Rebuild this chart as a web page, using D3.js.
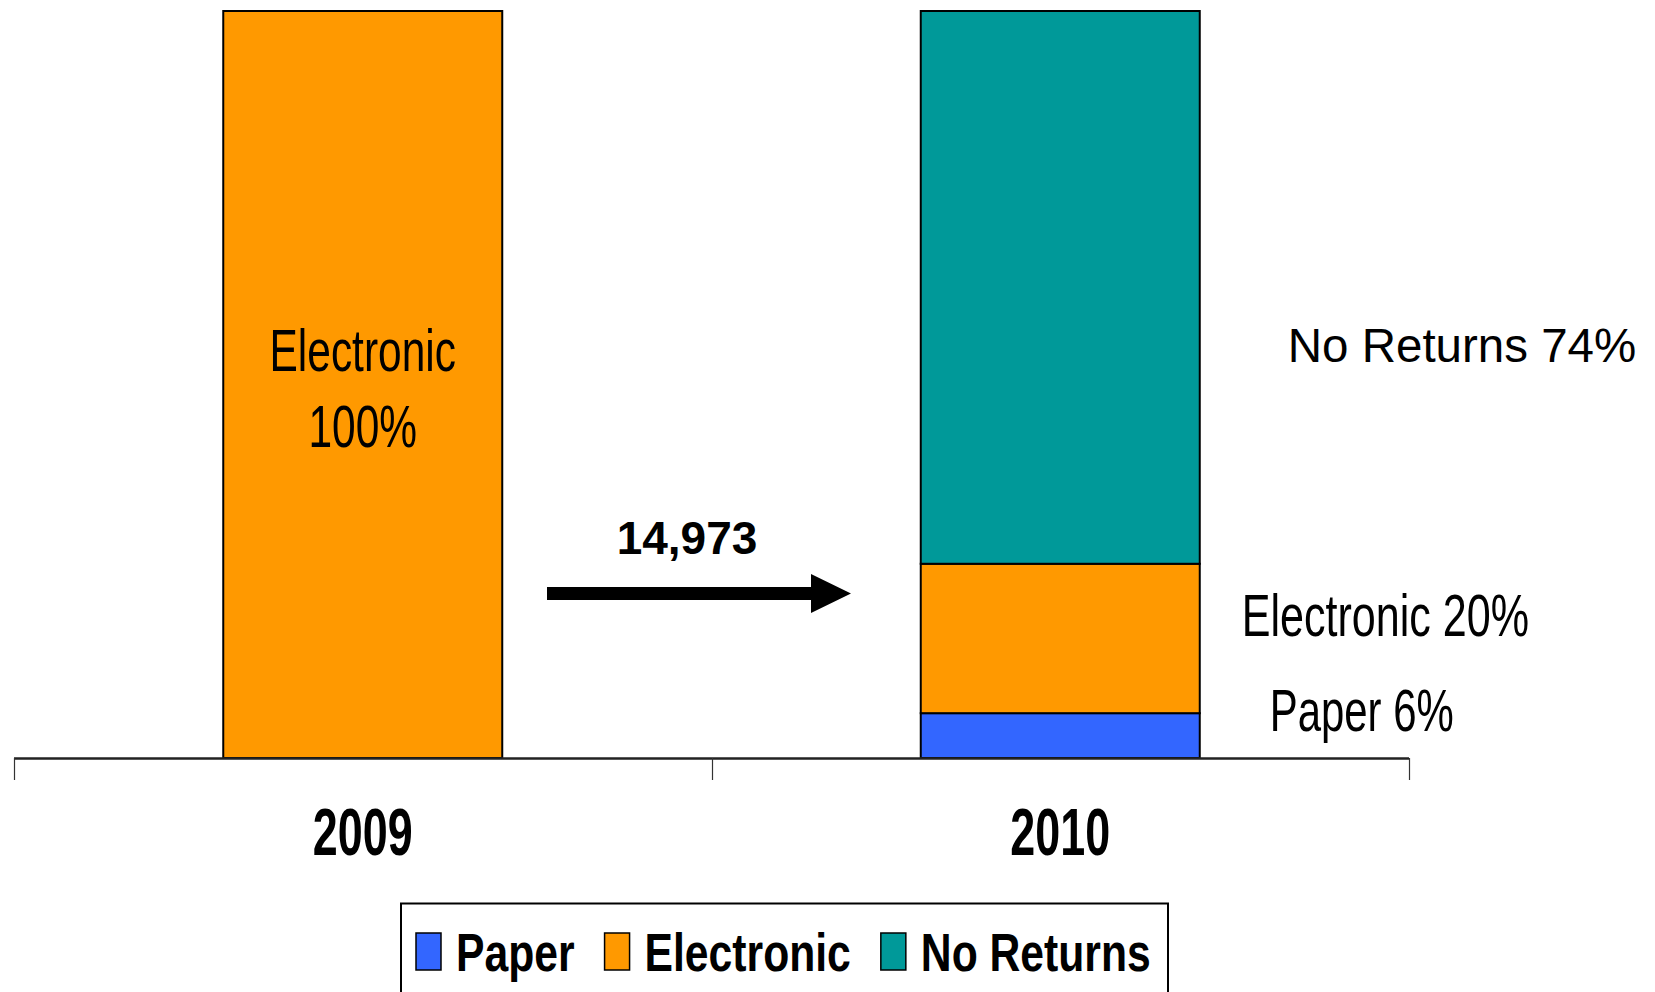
<!DOCTYPE html>
<html>
<head>
<meta charset="utf-8">
<script src="https://cdn.jsdelivr.net/npm/d3@7"></script>
<style>
  body { margin: 0; background: #fff; }
  text { font-family: "Liberation Sans", Arial, sans-serif; fill: #000; }
</style>
</head>
<body>
<div id="chart"></div>
<script>
// data
var years = ["2009", "2010"];
var categories = ["Paper", "Electronic", "No Returns"];
var paper = [0, 6];
var electronic = [100, 20];
var noReturns = [0, 74];
var transferCount = "14,973";

var colors = { "Paper": "#3366ff", "Electronic": "#ff9900", "No Returns": "#009999" };

var width = 1655, height = 992;

var rows = years.map(function (y, i) {
    return { year: y, "Paper": paper[i], "Electronic": electronic[i], "No Returns": noReturns[i] };
});

var svg = d3.select("#chart")
    .append("svg")
    .attr("width", width)
    .attr("height", height);

var x = d3.scaleBand()
    .domain(years)
    .range([14, 1409])
    .paddingInner(0.6)
    .paddingOuter(0.3);

var y = d3.scaleLinear()
    .domain([0, 100])
    .range([758, 11]);

// squeeze text horizontally (narrow face in the original)
function narrow(sel, k) {
    sel.each(function () {
        var len = this.getComputedTextLength();
        d3.select(this).attr("textLength", len * k).attr("lengthAdjust", "spacingAndGlyphs");
    });
}

var series = d3.stack().keys(categories)(rows);

svg.append("g")
    .selectAll("g")
    .data(series)
    .join("g")
    .attr("fill", function (s) { return colors[s.key]; })
    .selectAll("rect")
    .data(function (s) { return s.filter(function (d) { return d[1] > d[0]; }); })
    .join("rect")
    .attr("x", function (d) { return x(d.data.year); })
    .attr("y", function (d) { return y(d[1]); })
    .attr("width", x.bandwidth())
    .attr("height", function (d) { return y(d[0]) - y(d[1]); })
    .attr("stroke", "#000")
    .attr("stroke-width", 2);

// category axis, ticks between categories
var axis = svg.append("g");
axis.append("line")
    .attr("x1", x.range()[0]).attr("x2", x.range()[1])
    .attr("y1", y(0) + 0.5).attr("y2", y(0) + 0.5)
    .attr("stroke", "#222").attr("stroke-width", 2.5);
d3.range(years.length + 1).forEach(function (i) {
    var tx = Math.round(x.range()[0] + i * x.step()) + 0.5;
    axis.append("line")
        .attr("x1", tx).attr("x2", tx)
        .attr("y1", y(0)).attr("y2", y(0) + 22)
        .attr("stroke", "#333").attr("stroke-width", 1.2);
});
axis.selectAll("text.cat")
    .data(years)
    .join("text")
    .attr("class", "cat")
    .attr("x", function (d) { return x(d) + x.bandwidth() / 2; })
    .attr("y", 855)
    .attr("text-anchor", "middle")
    .attr("font-size", 66)
    .attr("font-weight", "bold")
    .text(function (d) { return d; })
    .call(narrow, 0.68);

// label inside the 2009 bar
var cx09 = x("2009") + x.bandwidth() / 2;
svg.append("text")
    .attr("x", cx09).attr("y", y(50) - 14)
    .attr("text-anchor", "middle").attr("font-size", 59)
    .text("Electronic")
    .call(narrow, 0.72);
svg.append("text")
    .attr("x", cx09).attr("y", y(50) + 62)
    .attr("text-anchor", "middle").attr("font-size", 59)
    .text(electronic[0] + "%")
    .call(narrow, 0.72);

// labels to the right of the 2010 bar
var right10 = x("2010") + x.bandwidth();
svg.append("text")
    .attr("x", right10 + 88).attr("y", 362)
    .attr("font-size", 47.5)
    .text("No Returns " + noReturns[1] + "%");
svg.append("text")
    .attr("x", right10 + 42).attr("y", 636)
    .attr("font-size", 59)
    .text("Electronic " + electronic[1] + "%")
    .call(narrow, 0.73);
svg.append("text")
    .attr("x", right10 + 70).attr("y", 731)
    .attr("font-size", 59)
    .text("Paper " + paper[1] + "%")
    .call(narrow, 0.71);

// arrow with count
svg.append("path")
    .attr("d", "M547,587 H811 V574 L851,593.5 L811,613 V600 H547 Z")
    .attr("fill", "#000");
svg.append("text")
    .attr("x", 687).attr("y", 554)
    .attr("text-anchor", "middle")
    .attr("font-size", 46).attr("font-weight", "bold")
    .text(transferCount);

// legend
var legend = svg.append("g");
legend.append("rect")
    .attr("x", 401).attr("y", 903.5)
    .attr("width", 767).attr("height", 140)
    .attr("fill", "none").attr("stroke", "#000").attr("stroke-width", 2);
var lx = 416;
categories.forEach(function (c) {
    legend.append("rect")
        .attr("x", lx).attr("y", 933)
        .attr("width", 25).attr("height", 37)
        .attr("fill", colors[c]).attr("stroke", "#000").attr("stroke-width", 1.5);
    var t = legend.append("text")
        .attr("x", lx + 40).attr("y", 971)
        .attr("font-size", 54).attr("font-weight", "bold")
        .text(c)
        .call(narrow, 0.79);
    lx += 40 + +t.attr("textLength") + 30;
});
</script>
</body>
</html>
